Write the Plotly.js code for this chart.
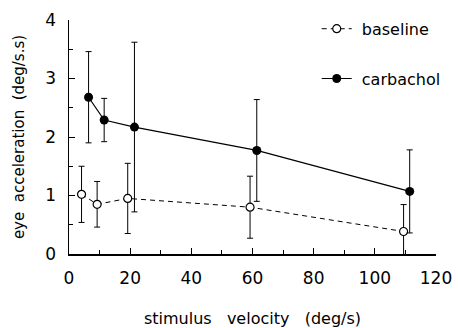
<!DOCTYPE html>
<html>
<head>
<meta charset="utf-8">
<script src="https://cdn.plot.ly/plotly-3.0.1.min.js"></script>
<style>html,body{margin:0;padding:0;background:#fff;}#chart{width:458px;height:328px;}</style>
</head>
<body>
<div id="chart"></div>
<script>
const baselineX = [4.1, 9.2, 19.2, 59.2, 109.4];
const baselineY = [1.02, 0.85, 0.95, 0.80, 0.385];
const baselineErr = [0.48, 0.39, 0.60, 0.53, 0.46];

const carbacholX = [6.4, 11.5, 21.4, 61.4, 111.4];
const carbacholY = [2.68, 2.29, 2.17, 1.77, 1.07];
const carbacholErr = [0.78, 0.37, 1.45, 0.87, 0.71];

const seriesNames = ["baseline", "carbachol"];
const xTicks = [0, 20, 40, 60, 80, 100, 120];
const yTicks = [0, 1, 2, 3, 4];

const font = "DejaVu Sans, sans-serif";
const pad = "&nbsp;";
const sp = "&nbsp;&nbsp;&nbsp;";
const spY = "&nbsp;&nbsp;";

const traces = [
  {
    x: baselineX, y: baselineY, name: pad + seriesNames[0], type: "scatter", mode: "lines+markers",
    legendgroup: "a",
    line: {color: "#000", width: 1, dash: "5px,4px"},
    marker: {symbol: "circle", size: 8, color: "#fff", line: {color: "#000", width: 1.2}},
    error_y: {type: "data", array: baselineErr, visible: true, color: "#000", thickness: 1, width: 3}
  },
  {
    x: carbacholX, y: carbacholY, name: pad + seriesNames[1], type: "scatter", mode: "lines+markers",
    legendgroup: "b",
    line: {color: "#000", width: 1.2},
    marker: {symbol: "circle", size: 9, color: "#000"},
    error_y: {type: "data", array: carbacholErr, visible: true, color: "#000", thickness: 1, width: 3}
  }
];

const layout = {
  width: 458, height: 328,
  margin: {l: 69, r: 19, t: 15, b: 74},
  paper_bgcolor: "#fff", plot_bgcolor: "#fff",
  font: {family: font, color: "#000", size: 16},
  showlegend: true,
  legend: {
    x: 0.675, y: 1.035, xanchor: "left", yanchor: "top",
    bgcolor: "rgba(0,0,0,0)", font: {size: 16, family: font},
    tracegroupgap: 26, traceorder: "grouped", itemwidth: 30
  },
  xaxis: {
    range: [0, 120], tickvals: xTicks, ticktext: xTicks.map(String),
    ticks: "inside", ticklen: 6, tickcolor: "#000", tickwidth: 1,
    minor: {dtick: 10, ticks: "inside", ticklen: 4, tickcolor: "#000"},
    showline: true, linecolor: "#000", linewidth: 1.5, mirror: false,
    showgrid: false, zeroline: false,
    tickfont: {size: 17, family: font},
    ticklabelstandoff: 8,
    title: {text: "stimulus" + sp + "velocity" + sp + "(deg/s)", font: {size: 16, family: font}, standoff: 28}
  },
  yaxis: {
    range: [0, 4], tickvals: yTicks, ticktext: yTicks.map(String),
    ticks: "inside", ticklen: 6, tickcolor: "#000", tickwidth: 1,
    minor: {dtick: 0.5, ticks: "inside", ticklen: 4, tickcolor: "#000"},
    showline: true, linecolor: "#000", linewidth: 1.5,
    showgrid: false, zeroline: false,
    tickfont: {size: 17, family: font},
    ticklabelstandoff: 8,
    title: {text: "eye" + spY + "acceleration" + spY + "(deg/s.s)", font: {size: 15, family: font}, standoff: 17}
  }
};

Plotly.newPlot("chart", traces, layout, {displayModeBar: false, staticPlot: true});
</script>
</body>
</html>
